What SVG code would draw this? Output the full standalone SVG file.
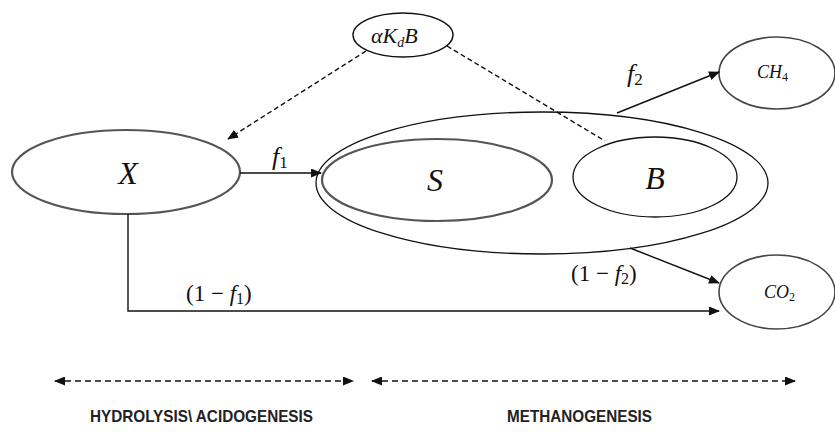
<svg xmlns="http://www.w3.org/2000/svg" width="835" height="432" viewBox="0 0 835 432">
<style>
.m{font-family:"Liberation Serif","Times New Roman",serif;font-style:italic;fill:#111}
.u{font-style:normal}
.lab{font-family:"Liberation Sans",Arial,sans-serif;font-weight:bold;fill:#222}
.conn{stroke:#111;stroke-width:1.4;fill:none}
.dash{stroke-dasharray:5 3}
.dash2{stroke-dasharray:6 4}
.node{fill:#fff}
</style>
<defs>
<marker id="arr" markerUnits="userSpaceOnUse" markerWidth="11" markerHeight="9" refX="10" refY="4.5" orient="auto-start-reverse">
<path d="M0,0 L11,4.5 L0,9 z" fill="#111"/>
</marker>
</defs>
<rect width="835" height="432" fill="#fff"/>

<g id="node-outer"><ellipse cx="542" cy="183" rx="226" ry="71" fill="none" stroke="#111" stroke-width="1.3"/></g>
<g id="node-S"><ellipse cx="437" cy="180" rx="115" ry="41" fill="none" stroke="#555" stroke-width="2.2"/><text class="m" x="435" y="191" font-size="32" text-anchor="middle">S</text></g>
<g id="node-B"><ellipse cx="655" cy="177" rx="82" ry="40" fill="none" stroke="#111" stroke-width="1.3"/><text class="m" x="655" y="189" font-size="32" text-anchor="middle">B</text></g>
<g id="node-X"><ellipse cx="126" cy="172" rx="114" ry="42" class="node" stroke="#555" stroke-width="2.2"/><text class="m" x="128" y="184" font-size="32" text-anchor="middle">X</text></g>
<g id="node-aKdB"><ellipse cx="403" cy="35" rx="50" ry="22" class="node" stroke="#111" stroke-width="1.4"/><text class="m" x="371" y="43" font-size="22">αK<tspan font-size="14" dy="4">d</tspan><tspan dy="-4">B</tspan></text></g>
<g id="node-CH4"><ellipse cx="777" cy="73" rx="58" ry="36" class="node" stroke="#444" stroke-width="1.6"/><text class="m" x="757" y="78" font-size="18">CH<tspan class="u" font-size="12" dy="3">4</tspan></text></g>
<g id="node-CO2"><ellipse cx="777" cy="292" rx="58" ry="37" class="node" stroke="#444" stroke-width="1.6"/><text class="m" x="764" y="298" font-size="18">CO<tspan class="u" font-size="12" dy="3">2</tspan></text></g>

<g id="connectors">
<line class="conn dash" x1="366" y1="51" x2="228" y2="139" marker-end="url(#arr)" stroke-width="1.3"/>
<line class="conn dash" x1="447" y1="46" x2="605" y2="141" stroke-width="1.1"/>
<line class="conn" x1="240" y1="173" x2="321" y2="173" marker-end="url(#arr)"/>
<path class="conn" d="M128,214 V311 H719" marker-end="url(#arr)"/>
<line class="conn" x1="617" y1="113" x2="719" y2="72" marker-end="url(#arr)"/>
<line class="conn" x1="630" y1="248" x2="719" y2="283" marker-end="url(#arr)"/>
<line class="conn dash2" x1="55" y1="381" x2="353" y2="381" marker-start="url(#arr)" marker-end="url(#arr)" stroke-width="1.5"/>
<line class="conn dash2" x1="372" y1="381" x2="795" y2="381" marker-start="url(#arr)" marker-end="url(#arr)" stroke-width="1.5"/>
</g>

<g id="labels">
<text class="m" x="272" y="165" font-size="26">f<tspan class="u" font-size="17" dy="3">1</tspan></text>
<text class="m" x="627" y="82" font-size="26">f<tspan class="u" font-size="17" dy="3">2</tspan></text>
<text class="m" x="186" y="301" font-size="23"><tspan class="u">(1 − </tspan>f<tspan class="u" font-size="16" dy="3">1</tspan><tspan class="u" dy="-3">)</tspan></text>
<text class="m" x="571" y="281" font-size="23"><tspan class="u">(1 − </tspan>f<tspan class="u" font-size="16" dy="3">2</tspan><tspan class="u" dy="-3">)</tspan></text>
<text class="lab" x="90" y="422" font-size="17" textLength="223" lengthAdjust="spacingAndGlyphs">HYDROLYSIS\ ACIDOGENESIS</text>
<text class="lab" x="507" y="422" font-size="17" textLength="145" lengthAdjust="spacingAndGlyphs">METHANOGENESIS</text>
</g>
</svg>
